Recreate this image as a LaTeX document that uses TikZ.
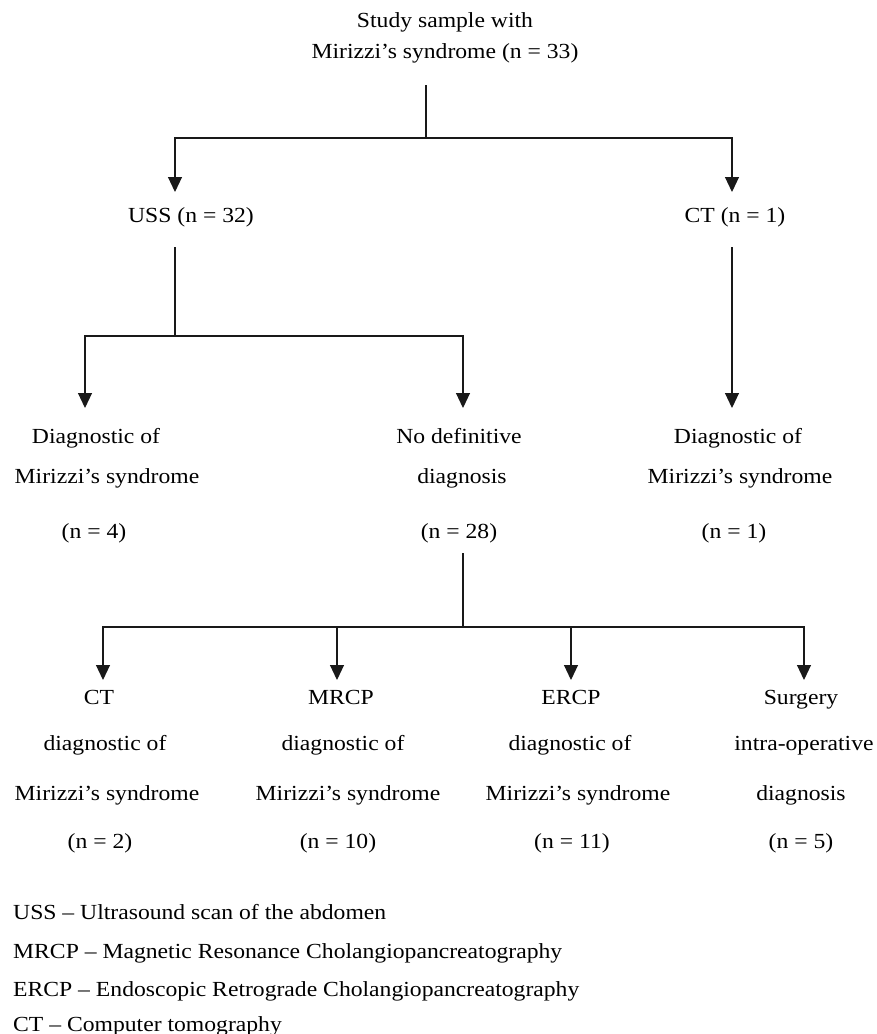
\documentclass[tikz,border=0pt]{standalone}
\usepackage{fontspec}
\setmainfont{Liberation Serif}[FakeStretch=1.1]
\usetikzlibrary{arrows.meta}
\begin{document}
\begin{tikzpicture}[x=1pt,y=-1pt,
  lab/.style={font=\fontsize{21.5}{25}\selectfont, inner sep=0pt, anchor=base, text=black},
  leg/.style={lab, anchor=base west},
  conn/.style={line width=1.1pt, draw=black!90},
  arr/.style={conn, -{Triangle[width=14pt,length=15pt]}}]
\useasboundingbox (0,0) rectangle (877,1034);

% ---- text nodes ----
\node[lab] (t1) at (445,27) {Study sample with};
\node[lab] (t2) at (445,58) {Mirizzi’s syndrome (n = 33)};

\node[lab] (uss) at (191,222) {USS (n = 32)};
\node[lab] (ct) at (735,222) {CT (n = 1)};

\node[lab] (dl1) at (96,443) {Diagnostic of};
\node[lab] (dl2) at (107,483) {Mirizzi’s syndrome};
\node[lab] (dl3) at (94,538) {(n = 4)};

\node[lab] (nd1) at (459,443) {No definitive};
\node[lab] (nd2) at (462,483) {diagnosis};
\node[lab] (nd3) at (459,538) {(n = 28)};

\node[lab] (dr1) at (738,443) {Diagnostic of};
\node[lab] (dr2) at (740,483) {Mirizzi’s syndrome};
\node[lab] (dr3) at (734,538) {(n = 1)};

\node[lab] (c1) at (99,704) {CT};
\node[lab] (c2) at (105,750) {diagnostic of};
\node[lab] (c3) at (107,800) {Mirizzi’s syndrome};
\node[lab] (c4) at (100,848) {(n = 2)};

\node[lab] (m1) at (341,704) {MRCP};
\node[lab] (m2) at (343,750) {diagnostic of};
\node[lab] (m3) at (348,800) {Mirizzi’s syndrome};
\node[lab] (m4) at (338,848) {(n = 10)};

\node[lab] (e1) at (571,704) {ERCP};
\node[lab] (e2) at (570,750) {diagnostic of};
\node[lab] (e3) at (578,800) {Mirizzi’s syndrome};
\node[lab] (e4) at (572,848) {(n = 11)};

\node[lab] (s1) at (801,704) {Surgery};
\node[lab] (s2) at (804,750) {intra-operative};
\node[lab] (s3) at (801,800) {diagnosis};
\node[lab] (s4) at (801,848) {(n = 5)};

\node[leg] (l1) at (13,919) {USS – Ultrasound scan of the abdomen};
\node[leg] (l2) at (13,958) {MRCP – Magnetic Resonance Cholangiopancreatography};
\node[leg] (l3) at (13,996) {ERCP – Endoscopic Retrograde Cholangiopancreatography};
\node[leg] (l4) at (13,1031) {CT – Computer tomography};

% ---- connector points ----
\coordinate (a0) at (426,85);
\coordinate (a1) at (426,138);
\coordinate (ussin) at (175,192);
\coordinate (ctin) at (732,192);

\coordinate (b0) at (175,247);
\coordinate (b1) at (175,336);
\coordinate (dlin) at (85,408);
\coordinate (ndin) at (463,408);

\coordinate (ctout) at (732,247);
\coordinate (drin) at (732,408);

\coordinate (d0) at (463,553);
\coordinate (d1) at (463,627);
\coordinate (cin) at (103,680);
\coordinate (mtop) at (337,627);
\coordinate (min) at (337,680);
\coordinate (etop) at (571,627);
\coordinate (ein) at (571,680);
\coordinate (sin) at (804,680);

% ---- connectors ----
\draw[conn] (a0) -- (a1);
\draw[arr] (a1) -| (ussin);
\draw[arr] (a1) -| (ctin);

\draw[conn] (b0) -- (b1);
\draw[arr] (b1) -| (dlin);
\draw[arr] (b1) -| (ndin);

\draw[arr] (ctout) -- (drin);

\draw[conn] (d0) -- (d1);
\draw[arr] (d1) -| (cin);
\draw[arr] (d1) -| (sin);
\draw[arr] (mtop) -- (min);
\draw[arr] (etop) -- (ein);
\end{tikzpicture}
\end{document}
